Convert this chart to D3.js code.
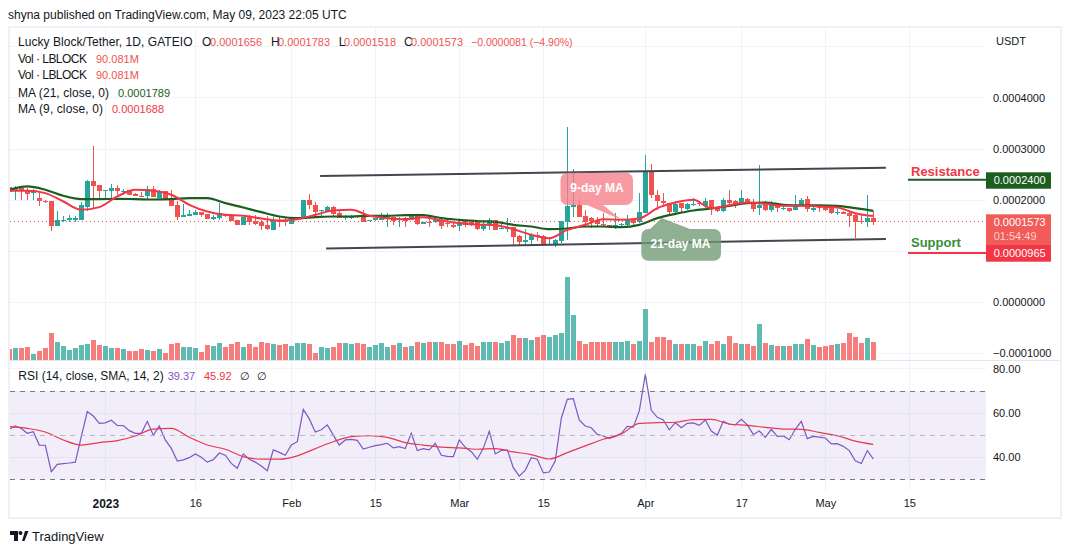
<!DOCTYPE html>
<html>
<head>
    <meta charset="UTF-8">
    <title>Lucky Block/Tether, 1D, GATEIO</title>
    <script src="https://d3js.org/d3.v7.min.js"></script>
    <style>
        body { margin: 0; padding: 0; background: #fff; }
        svg { display: block; }
        text { font-family: "Liberation Sans", sans-serif; font-size: 11px; fill: #131722; }
    </style>
</head>
<body>
    <svg id="chart" width="1072" height="554"></svg>

    <script>
        // prices are in units of 0.0000001, one entry per day from 2022-12-16
        const opens = [2250,2169,2240,2202,2130,2045,1986,1986,1496,1594,1601,1601,1614,1862,2365,2300,2169,2169,2241,2162,2188,2110,2084,2071,2215,2045,2175,2019,1908,1673,1692,1712,1771,1731,1633,1653,1718,1692,1614,1516,1666,1594,1562,1509,1418,1607,1594,1535,1640,1627,2006,1908,1777,1790,1868,1744,1647,1660,1692,1692,1601,1607,1620,1627,1666,1607,1653,1601,1686,1542,1581,1562,1601,1548,1516,1496,1588,1562,1562,1438,1503,1614,1431,1438,1470,1300,1189,1222,1320,1300,1124,1124,1203,1581,1869,1908,1692,1640,1614,1535,1516,1457,1503,1516,1614,1581,1751,2548,2104,1986,1940,1771,1940,1830,1908,1940,1875,1999,1849,1777,2006,1973,1927,2025,1966,1836,1927,1810,1914,1842,1849,1797,1888,2025,1810,1862,1862,1836,1758,1771,1744,1712,1594,1562,1656];
        const highs = [2270,2267,2260,2240,2215,2136,2006,1986,1790,1692,1705,1692,1966,2384,3063,2300,2202,2319,2300,2221,2188,2130,2160,2280,2280,2202,2175,2202,1973,1927,1797,1810,1771,1731,1712,1953,1718,1720,1614,1660,1712,1712,1620,1692,1666,1666,1666,1640,1665,2006,2123,1966,1810,1888,1888,1823,1700,1712,1705,1810,1620,1650,1744,1744,1679,1666,1660,1720,1712,1580,1705,1630,1627,1614,1548,1590,1627,1570,1614,1601,1646,1620,1548,1653,1483,1310,1431,1360,1372,1310,1274,1230,1594,3436,2606,2025,1810,1660,1666,1744,1520,1744,1550,1705,1627,2136,2887,2711,2202,2136,1950,1980,1950,1945,2038,1980,2038,2005,1855,2038,2202,2006,2202,2038,2025,2691,1986,1973,1920,1888,1855,2104,2050,2071,1901,1890,1908,1850,1823,1780,1760,1720,1712,2104,1783];
        const lows = [2140,2006,2006,2006,2006,1888,1953,1405,1496,1568,1581,1581,1614,1777,1842,2006,2006,2038,2104,2104,2091,2071,2065,2019,2051,2045,2010,1888,1614,1673,1692,1712,1666,1633,1614,1614,1666,1594,1516,1516,1516,1516,1418,1418,1418,1483,1496,1535,1630,1627,1823,1692,1692,1777,1692,1640,1614,1627,1653,1581,1594,1600,1614,1464,1516,1464,1483,1601,1516,1530,1483,1550,1431,1483,1450,1405,1470,1496,1418,1405,1418,1418,1425,1385,1124,1124,1124,1124,1190,1115,1115,1078,1170,1220,1666,1660,1516,1450,1470,1470,1457,1444,1490,1483,1520,1548,1751,2038,1810,1862,1692,1744,1744,1810,1875,1890,1842,1718,1760,1770,1862,1842,1927,1940,1771,1718,1790,1758,1758,1810,1775,1797,1888,1771,1758,1758,1790,1730,1718,1720,1483,1268,1535,1483,1518];
        const closes = [2160,2234,2175,2123,2169,1973,1973,1496,1614,1614,1640,1640,1908,2365,2280,2169,2202,2241,2169,2182,2091,2071,2071,2215,2051,2175,2019,1888,1673,1712,1731,1771,1712,1633,1673,1738,1699,1594,1516,1660,1562,1535,1496,1431,1607,1562,1568,1640,1653,2006,1908,1764,1810,1868,1731,1640,1686,1679,1666,1581,1614,1640,1640,1666,1594,1627,1594,1712,1535,1568,1562,1614,1496,1529,1483,1581,1516,1503,1438,1509,1607,1418,1457,1477,1287,1183,1222,1320,1287,1124,1140,1222,1594,1888,1908,1666,1581,1600,1529,1503,1477,1516,1535,1614,1548,1771,2548,2091,1973,1934,1764,1927,1836,1927,1927,1927,1986,1836,1777,2006,1940,1927,2045,1953,1829,1908,1810,1927,1836,1855,1790,1908,2006,1823,1855,1836,1810,1744,1771,1731,1692,1568,1562,1653,1573];
        // volume in millions
        const volumes = [55,60,60,65,30,45,60,135,90,70,50,60,75,80,100,75,70,60,60,55,45,45,55,50,45,55,35,80,85,65,65,60,40,75,70,85,65,80,90,65,80,65,90,85,80,75,80,70,85,85,80,35,65,60,65,85,85,80,85,80,65,75,85,65,75,85,65,70,90,85,90,90,90,80,80,95,75,85,70,90,90,90,85,95,125,110,110,100,115,125,115,125,135,415,225,95,80,90,90,90,90,90,90,95,80,95,255,90,115,115,100,80,80,80,80,70,95,80,95,80,120,85,80,80,70,180,85,75,70,70,70,80,80,105,75,65,70,75,80,85,135,115,85,110,90.081];
        // moving averages read at every third day
        const ma21 = [2202,2267,2202,2084,2019,2019,2025,2019,2012,2019,2038,2038,1940,1855,1764,1679,1647,1666,1679,1679,1692,1692,1705,1705,1647,1614,1588,1575,1516,1483,1431,1444,1483,1483,1470,1516,1647,1731,1797,1836,1888,1940,1953,1908,1895,1895,1888,1842,1789];
        const ma9 = [2182,2182,2136,1973,1810,1862,2071,2202,2182,2104,1908,1777,1712,1692,1640,1601,1627,1712,1797,1810,1692,1647,1627,1666,1601,1548,1522,1509,1431,1320,1255,1418,1516,1627,1614,1640,1842,1953,2006,1842,1901,1953,1927,1888,1888,1875,1855,1744,1688];
        const rsi = [52.7,54.2,53.1,50.9,51.6,45.6,45.5,33.6,36.9,37.2,37.5,37.9,49.4,60.7,58.7,55.4,55.6,56.8,54.5,54.4,52.1,50.9,50.9,56.3,50,54.2,47.9,44.1,38.4,38.9,39.9,41.6,40.1,37.9,39,42,41,37.3,35.1,41.6,39.2,37.9,36.1,34,43.4,42.3,41,45.6,47.1,61.7,57.4,51.5,52.5,54.7,50.1,45.6,47.9,48.2,47.7,43.8,44.6,45.3,45.8,46.4,44.3,44.9,44,50.9,43.1,44,43.4,46.4,41,40.5,40.4,47.9,44.6,42.6,39.2,44.1,51.8,41.6,43.2,43.4,35.4,31.6,34.3,39.9,39.2,33,33.4,38.5,57.7,66.2,66.5,56.8,54.2,53.4,50.4,49.7,48.6,49.5,50.9,54,53.7,61,77.5,61.3,58.1,56.9,52.5,55.7,53.4,55.4,55.6,54.5,56.9,51.9,50,56.3,55,54.7,57.2,54.7,50.4,51.9,49.1,52.7,49.5,49.7,48,52.7,56.3,48.5,49.5,49.2,48.8,46.1,46.2,45,43.1,38.5,37.3,43.1,39.37];
        const rsiMa = [53.9,53.1,51.5,47.9,45.6,46.7,47.6,49.7,52.8,53.1,49.1,45.6,43.7,40.4,39.2,39.2,40.7,44,47.1,49.4,49.8,49.1,46.7,45.6,44.7,44.3,43.7,44,42.5,41.3,39.3,42.2,45.2,48.2,50.6,55.4,55.7,55.9,57.1,57.2,55.1,54.5,53.6,52.8,52.7,51.3,49.8,47.4,45.92];

        const dateTicks = [[2023,0,1],[2023,0,16],[2023,1,1],[2023,1,15],[2023,2,1],[2023,2,15],[2023,3,1],[2023,3,17],[2023,4,1],[2023,4,15]];
        const dateLabels = ["2023","16","Feb","15","Mar","15","Apr","17","May","15"];
        const gridPrices = [-1000,0,1000,2000,3000,4000,5000];
        const labelPrices = [-1000,0,2000,3000,4000];
        const rsiTicks = [80,60,40];
        const upperTrend = [{ day: 51.8, price: 2470 }, { day: 146.1, price: 2633 }];
        const lowerTrend = [{ day: 52.8, price: 1051 }, { day: 146.1, price: 1241 }];
        const lastPrice = 1573, resistance = 2400, support = 965;

        const svg = d3.select("#chart");
        const paneLeft = 10, paneRight = 986;

        const dayMs = 86400000;
        const startDate = Date.UTC(2022, 11, 16);
        const days = opens.map((d, i) => new Date(startDate + i * dayMs));
        const x = d3.scaleUtc()
            .domain([new Date(startDate), new Date(Date.UTC(2023, 4, 15))])
            .range([9.3, 909.3]);
        const xDay = i => x(new Date(startDate + i * dayMs));
        const snap = v => Math.floor(v) + 0.5;

        const y = d3.scaleLinear().domain([-1000, 4000]).range([353.4, 97.9]);
        const yVol = d3.scaleLinear().domain([0, 415]).range([360, 277]);
        const yRsi = d3.scaleLinear().domain([30, 70]).range([479.6, 391]);

        const priceText = v => (v < 0 ? "\u2212" : "") + Math.abs(v / 1e7).toFixed(7);

        svg.append("defs").append("clipPath").attr("id", "pane")
            .append("rect").attr("x", paneLeft).attr("y", 28)
            .attr("width", paneRight - paneLeft).attr("height", 470);

        // frame
        const frame = "#eff1f7";
        svg.append("rect").attr("x", 9).attr("y", 27).attr("width", 1052).attr("height", 491)
            .attr("fill", "none").attr("stroke", frame).attr("stroke-width", 2);

        // grid
        const grid = svg.append("g").attr("stroke", "#f0f3fa").attr("shape-rendering", "crispEdges");
        grid.selectAll(".v").data(dateTicks).enter().append("line")
            .attr("x1", d => snap(x(new Date(Date.UTC(...d))))).attr("x2", d => snap(x(new Date(Date.UTC(...d)))))
            .attr("y1", 28).attr("y2", 491);
        grid.selectAll(".h").data(gridPrices).enter().append("line")
            .attr("x1", paneLeft).attr("x2", paneRight)
            .attr("y1", d => snap(y(d))).attr("y2", d => snap(y(d)));
        grid.selectAll(".r").data([80, 60, 40]).enter().append("line")
            .attr("x1", paneLeft).attr("x2", paneRight)
            .attr("y1", d => snap(yRsi(d))).attr("y2", d => snap(yRsi(d)));

        // pane divider
        svg.append("line").attr("x1", paneLeft).attr("x2", 1060).attr("y1", 360.5).attr("y2", 360.5)
            .attr("stroke", "#e6e4f2");

        const plot = svg.append("g").attr("clip-path", "url(#pane)");

        // volume
        plot.append("g").attr("shape-rendering", "crispEdges").selectAll("rect")
            .data(volumes).enter().append("rect")
            .attr("x", (d, i) => Math.floor(xDay(i)) - 2)
            .attr("width", 5)
            .attr("y", d => yVol(d))
            .attr("height", d => yVol(0) - yVol(d))
            .attr("fill", (d, i) => closes[i] >= opens[i] ? "#5fbab1" : "#f57d7d");

        // candles
        const candles = plot.append("g").attr("shape-rendering", "crispEdges");
        const candleColor = i => closes[i] >= opens[i] ? "#26a69a" : "#ef5350";
        candles.selectAll("line").data(days).enter().append("line")
            .attr("x1", (d, i) => snap(xDay(i))).attr("x2", (d, i) => snap(xDay(i)))
            .attr("y1", (d, i) => y(highs[i])).attr("y2", (d, i) => y(lows[i]))
            .attr("stroke", (d, i) => candleColor(i));
        candles.selectAll("rect").data(days).enter().append("rect")
            .attr("x", (d, i) => Math.floor(xDay(i)) - 2)
            .attr("width", 5)
            .attr("y", (d, i) => y(Math.max(opens[i], closes[i])))
            .attr("height", (d, i) => Math.max(1, Math.abs(y(opens[i]) - y(closes[i]))))
            .attr("fill", (d, i) => candleColor(i));

        // moving averages
        const everyThird = d3.line().x((d, i) => xDay(i * 3)).curve(d3.curveMonotoneX);
        plot.append("path").datum(ma21)
            .attr("d", everyThird.y(d => y(d)))
            .attr("fill", "none").attr("stroke", "#1b5e20").attr("stroke-width", 2.2);
        plot.append("path").datum(ma9)
            .attr("d", everyThird.y(d => y(d)))
            .attr("fill", "none").attr("stroke", "#f23645").attr("stroke-width", 2);

        // last price line
        svg.append("line").attr("x1", paneLeft).attr("x2", paneRight)
            .attr("y1", snap(y(lastPrice))).attr("y2", snap(y(lastPrice)))
            .attr("stroke", "#ef5350").attr("stroke-dasharray", "1,3");

        // channel
        const trendLine = d3.line().x(d => xDay(d.day)).y(d => y(d.price));
        [upperTrend, lowerTrend].forEach(t => {
            svg.append("path").datum(t).attr("d", trendLine)
                .attr("fill", "none").attr("stroke", "#434651").attr("stroke-width", 2);
        });

        // callouts
        svg.append("path")
            .attr("d", "M567.5,172.7H626a7,7 0 0 1 7,7V198a7,7 0 0 1 -7,7H603L621.7,220L587,205H567.5a7,7 0 0 1 -7,-7V179.7a7,7 0 0 1 7,-7Z")
            .attr("fill", "#f57d87").attr("fill-opacity", 0.78);
        svg.append("text").attr("x", 597).attr("y", 191.6).attr("text-anchor", "middle")
            .style("fill", "#fff").style("font-weight", "bold").style("font-size", "12px").text("9-day MA");
        svg.append("path")
            .attr("d", "M648.3,229H650L661.7,218L690,229H714a7,7 0 0 1 7,7V253.7a7,7 0 0 1 -7,7H648.3a7,7 0 0 1 -7,-7V236a7,7 0 0 1 7,-7Z")
            .attr("fill", "#6f9a73").attr("fill-opacity", 0.78);
        svg.append("text").attr("x", 680.5).attr("y", 247.6).attr("text-anchor", "middle")
            .style("fill", "#fff").style("font-weight", "bold").style("font-size", "12px").text("21-day MA");

        // rsi band
        svg.append("rect").attr("x", paneLeft).attr("width", paneRight - paneLeft)
            .attr("y", yRsi(70)).attr("height", yRsi(30) - yRsi(70))
            .attr("fill", "#7e57c2").attr("fill-opacity", 0.1);
        [[70, "#787b86"], [50, "#b8b6c4"], [30, "#787b86"]].forEach(([v, c]) => {
            svg.append("line").attr("x1", paneLeft).attr("x2", paneRight)
                .attr("y1", snap(yRsi(v))).attr("y2", snap(yRsi(v)))
                .attr("stroke", c).attr("stroke-dasharray", "5,5");
        });
        plot.append("path").datum(rsi)
            .attr("d", d3.line().x((d, i) => xDay(i)).y(d => yRsi(d)))
            .attr("fill", "none").attr("stroke", "#7e57c2").attr("stroke-width", 1.2);
        plot.append("path").datum(rsiMa)
            .attr("d", d3.line().x((d, i) => xDay(i * 3)).y(d => yRsi(d)).curve(d3.curveMonotoneX))
            .attr("fill", "none").attr("stroke", "#f23645").attr("stroke-width", 1.2);

        // axes
        svg.append("g").attr("transform", "translate(988,0)")
            .call(d3.axisRight(y).tickValues(labelPrices).tickFormat(priceText).tickSize(0).tickPadding(5))
            .call(g => g.select(".domain").remove());
        svg.append("g").attr("transform", "translate(988,0)")
            .call(d3.axisRight(yRsi).tickValues(rsiTicks).tickFormat(d => d.toFixed(2)).tickSize(0).tickPadding(5))
            .call(g => g.select(".domain").remove());
        svg.append("g").attr("transform", "translate(0,497)")
            .call(d3.axisBottom(x).tickValues(dateTicks.map(d => new Date(Date.UTC(...d))))
                .tickFormat((d, i) => dateLabels[i]).tickSize(0).tickPadding(2))
            .call(g => g.select(".domain").remove())
            .selectAll("text")
            .style("font-weight", (d, i) => i === 0 ? "bold" : "normal")
            .style("font-size", (d, i) => i === 0 ? "12px" : "11px");
        svg.selectAll("g text").attr("font-family", null).attr("font-size", null);

        // price tags
        const tag = (top, h, fill, label) => {
            svg.append("rect").attr("x", 986).attr("y", top).attr("width", 65).attr("height", h).attr("fill", fill);
            svg.append("text").attr("x", 993.7).attr("y", top + 12).style("fill", "#fff").text(label);
        };
        tag(214.3, 30.7, "#f15c58", priceText(lastPrice));
        svg.append("text").attr("x", 993.7).attr("y", 240.3).style("fill", "#fbd0ce").text("01:54:49");
        tag(172.3, 16.4, "#1b5e20", priceText(resistance));
        tag(245, 16.7, "#f23645", priceText(support));

        // resistance and support
        svg.append("line").attr("x1", 908).attr("x2", 986).attr("y1", y(resistance)).attr("y2", y(resistance))
            .attr("stroke", "#1b5e20").attr("stroke-width", 2);
        svg.append("line").attr("x1", 908).attr("x2", 986).attr("y1", y(support)).attr("y2", y(support))
            .attr("stroke", "#f23645").attr("stroke-width", 2);
        svg.append("text").attr("x", 911).attr("y", 176).style("fill", "#f23645")
            .style("font-weight", "bold").style("font-size", "13px").text("Resistance");
        svg.append("text").attr("x", 911).attr("y", 247).style("fill", "#388e3c")
            .style("font-weight", "bold").style("font-size", "13px").text("Support");

        // legend: x, baseline, colour, text, font size, optional fitted width
        const red = "#ef5350", ink = "#131722";
        const legend = [
            [8, 19, ink, "shyna published on TradingView.com, May 09, 2023 22:05 UTC", 12],
            [18, 46, ink, "Lucky Block/Tether, 1D, GATEIO", 12, 174.5],
            [202, 46, ink, "O", 12], [210, 46, red, "0.0001656", 11],
            [271, 46, ink, "H", 12], [278, 46, red, "0.0001783", 11],
            [338.7, 46, ink, "L", 12], [344, 46, red, "0.0001518", 11],
            [404, 46, ink, "C", 12], [411, 46, red, "0.0001573", 11],
            [471, 46, red, "\u22120.0000081 (\u22124.90%)", 10.5],
            [18, 62.7, ink, "Vol \u00b7 LBLOCK", 12, 69], [96, 62.7, red, "90.081M", 11],
            [18, 79.3, ink, "Vol \u00b7 LBLOCK", 12, 69], [96, 79.3, red, "90.081M", 11],
            [18, 96.7, ink, "MA (21, close, 0)", 12, 91], [118, 96.7, "#1b5e20", "0.0001789", 11],
            [18, 113.3, ink, "MA (9, close, 0)", 12, 85], [112, 113.3, "#f23645", "0.0001688", 11],
            [18.3, 380, ink, "RSI (14, close, SMA, 14, 2)", 12], [167.7, 380, "#7e57c2", "39.37", 11],
            [204, 380, "#f23645", "45.92", 11], [240, 380, ink, "\u2205", 11], [256.7, 380, ink, "\u2205", 11],
            [996, 45, ink, "USDT", 11]
        ];
        svg.selectAll(".legend").data(legend).enter().append("text")
            .attr("class", "legend")
            .attr("x", d => d[0]).attr("y", d => d[1])
            .attr("textLength", d => d[5] || null)
            .style("fill", d => d[2])
            .style("font-size", d => d[4] + "px")
            .text(d => d[3]);

        // logo
        const logo = svg.append("g").attr("fill", "#131722");
        logo.append("path").attr("d", "M10,531H18V541H14V535H10Z");
        logo.append("circle").attr("cx", 20.5).attr("cy", 533).attr("r", 2);
        logo.append("path").attr("d", "M22,541L25,531H28.5L24.5,541Z");
        svg.append("text").attr("x", 32).attr("y", 541).style("font-size", "13px").style("fill", "#131722").text("TradingView");
    </script>
</body>
</html>
